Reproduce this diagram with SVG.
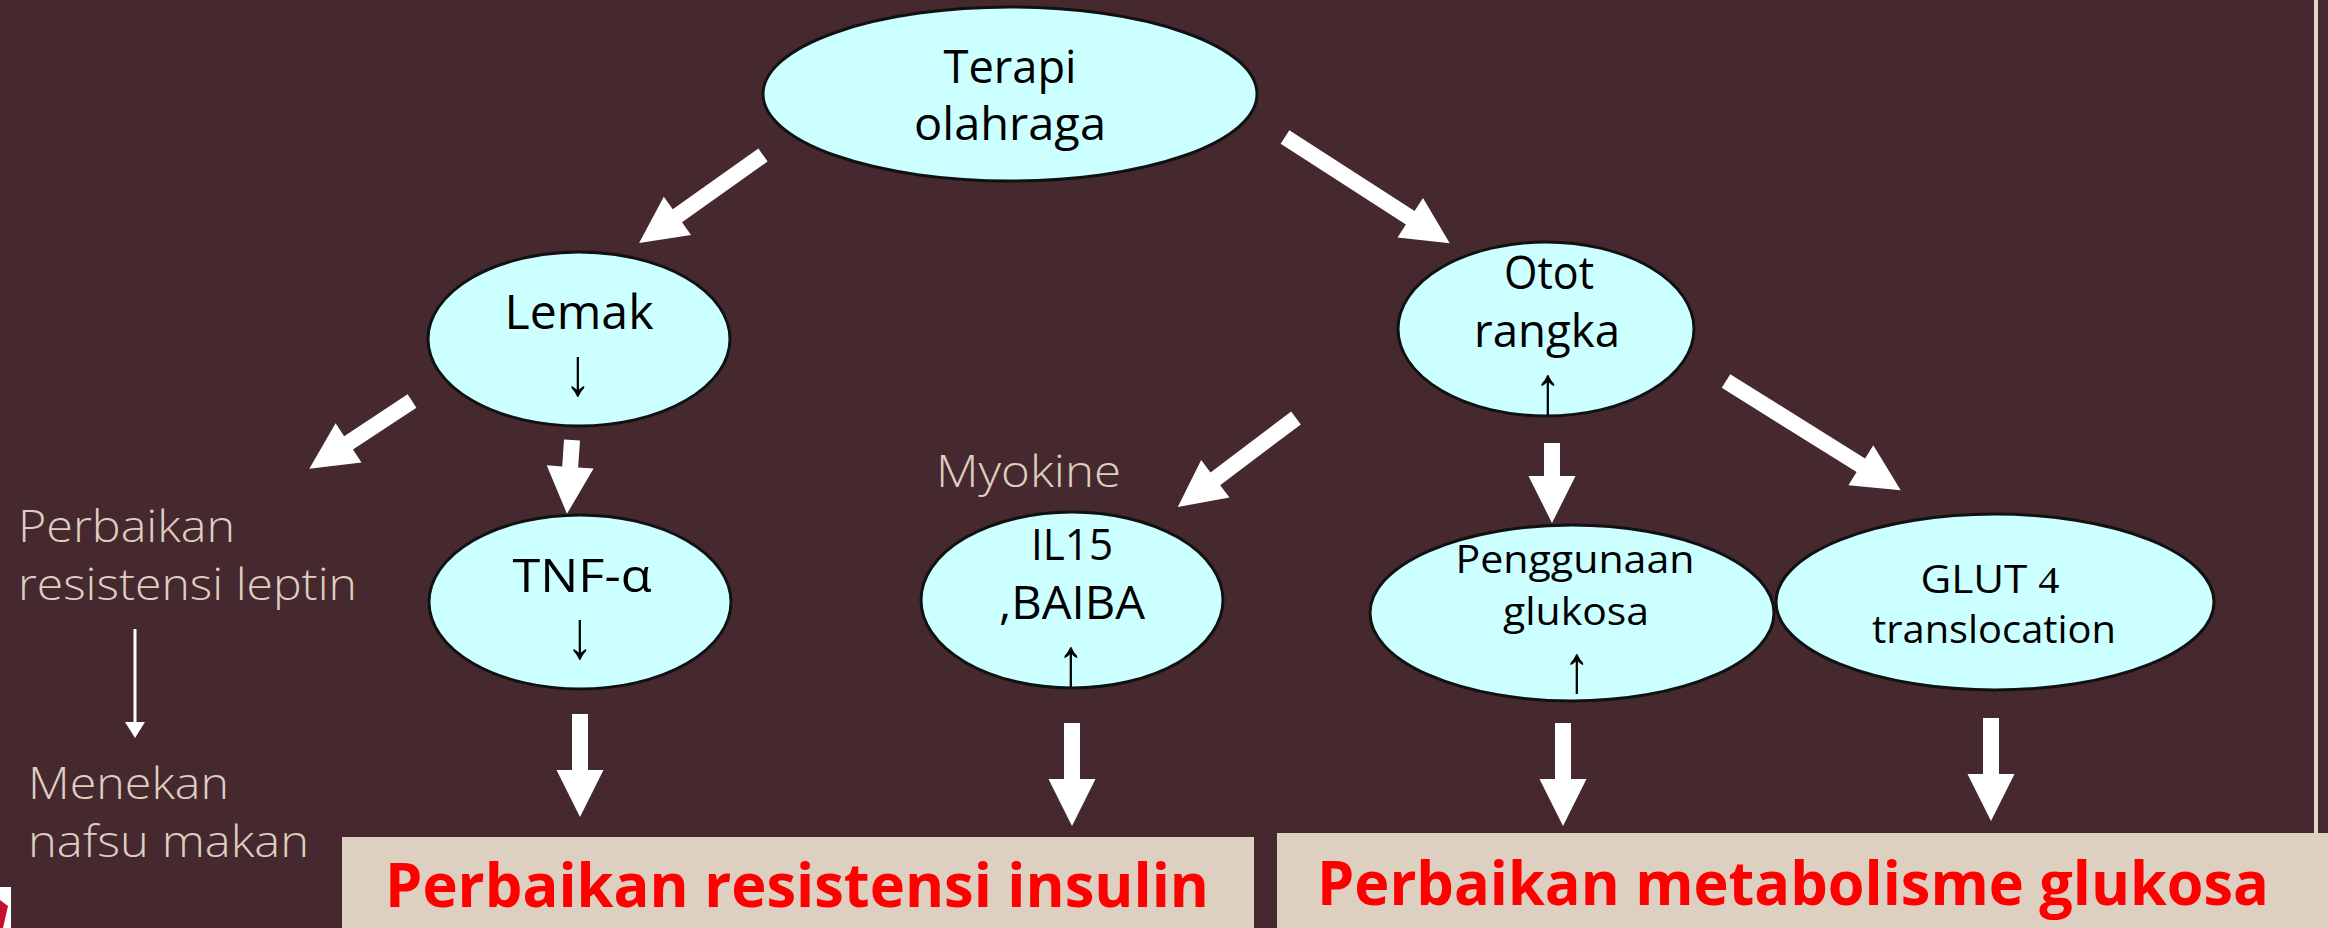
<svg xmlns="http://www.w3.org/2000/svg" width="2328" height="928" viewBox="0 0 2328 928">
<defs>
<style>
.node ellipse{fill:#ccffff;stroke:#111;stroke-width:3}
.t{font-family:"Open Sans","Liberation Sans",sans-serif;fill:#000;text-anchor:middle}
.ar{font-family:"Liberation Sans","DejaVu Sans",sans-serif;fill:#000;text-anchor:middle;font-size:54px}
.beige{font-family:"Open Sans","Liberation Sans",sans-serif;font-weight:300;fill:#dccfc0;font-size:44px}
.red{font-family:"Open Sans","Liberation Sans",sans-serif;font-weight:700;fill:#ff0000;font-size:60px}
.blk{fill:#ffffff}
</style>
</defs>
<rect width="2328" height="928" fill="#46292f"/>
<rect x="2314" y="0" width="4" height="833" fill="#e0d5c8"/>
<rect x="0" y="887" width="11" height="41" fill="#ffffff"/>
<polygon points="0,900 8,906 3,928 0,928" fill="#c8102e"/>

<g id="connectors">
<path class="blk" transform="translate(763,155) rotate(144.6)" d="M0,-8 H105 V-23.5 L152,0 L105,23.5 V8 H0 Z"/>
<path class="blk" transform="translate(1285,137) rotate(32.8)" d="M0,-8 H149 V-23.5 L196,0 L149,23.5 V8 H0 Z"/>
<path class="blk" transform="translate(412,401) rotate(146.6)" d="M0,-8 H76 V-23.5 L123,0 L76,23.5 V8 H0 Z"/>
<path class="blk" transform="translate(572,440) rotate(93.9)" d="M0,-8 H27 V-23.5 L74,0 L27,23.5 V8 H0 Z"/>
<path class="blk" transform="translate(580,714) rotate(90)" d="M0,-8 H56 V-23.5 L103,0 L56,23.5 V8 H0 Z"/>
<path class="blk" transform="translate(1296,418) rotate(143)" d="M0,-8 H101 V-23.5 L148,0 L101,23.5 V8 H0 Z"/>
<path class="blk" transform="translate(1072,723) rotate(90)" d="M0,-8 H56 V-23.5 L103,0 L56,23.5 V8 H0 Z"/>
<path class="blk" transform="translate(1552,443) rotate(90)" d="M0,-8 H33 V-23.5 L80,0 L33,23.5 V8 H0 Z"/>
<path class="blk" transform="translate(1726,381) rotate(32)" d="M0,-8 H159 V-23.5 L206,0 L159,23.5 V8 H0 Z"/>
<path class="blk" transform="translate(1563,723) rotate(90)" d="M0,-8 H56 V-23.5 L103,0 L56,23.5 V8 H0 Z"/>
<path class="blk" transform="translate(1991,718) rotate(90)" d="M0,-8 H56 V-23.5 L103,0 L56,23.5 V8 H0 Z"/>
<rect class="blk" x="133.5" y="629" width="3" height="95"/>
<polygon class="blk" points="125,722 145,722 135,738"/>
</g>

<g id="n-terapi" class="node">
<ellipse cx="1010" cy="94" rx="247" ry="87"/>
<text class="t" x="1010" y="83" font-size="45" textLength="133" lengthAdjust="spacingAndGlyphs">Terapi</text>
<text class="t" x="1010" y="140" font-size="45" textLength="192" lengthAdjust="spacingAndGlyphs">olahraga</text>
</g>

<g id="n-lemak" class="node">
<ellipse cx="579" cy="339" rx="151" ry="87"/>
<text class="t" x="579" y="329" font-size="47" textLength="149" lengthAdjust="spacingAndGlyphs">Lemak</text>
<text class="ar" transform="translate(578,395) scale(1,1.25)">↓</text>
</g>

<g id="n-otot" class="node">
<ellipse cx="1546" cy="329" rx="148" ry="87"/>
<text class="t" x="1549" y="289" font-size="45" textLength="90" lengthAdjust="spacingAndGlyphs">Otot</text>
<text class="t" x="1547" y="347" font-size="45" textLength="146" lengthAdjust="spacingAndGlyphs">rangka</text>
<text class="ar" transform="translate(1548,413) scale(1,1.25)">↑</text>
</g>

<g id="n-tnf" class="node">
<ellipse cx="580" cy="602" rx="151" ry="87"/>
<text class="t" x="582" y="592" font-size="46" textLength="139" lengthAdjust="spacingAndGlyphs">TNF-α</text>
<text class="ar" transform="translate(580,658) scale(1,1.25)">↓</text>
</g>

<g id="n-il15" class="node">
<ellipse cx="1072" cy="600" rx="151" ry="88"/>
<text class="t" x="1072" y="560" font-size="44" textLength="82" lengthAdjust="spacingAndGlyphs">IL15</text>
<text class="t" x="1072" y="619" font-size="46" textLength="146" lengthAdjust="spacingAndGlyphs">,BAIBA</text>
<text class="ar" transform="translate(1071,685) scale(1,1.25)">↑</text>
</g>

<g id="n-penggunaan" class="node">
<ellipse cx="1572" cy="613" rx="202" ry="88"/>
<text class="t" x="1575" y="573" font-size="39" textLength="239" lengthAdjust="spacingAndGlyphs">Penggunaan</text>
<text class="t" x="1576" y="625" font-size="39" textLength="146" lengthAdjust="spacingAndGlyphs">glukosa</text>
<text class="ar" transform="translate(1577,692) scale(1,1.25)">↑</text>
</g>

<g id="n-glut4" class="node">
<ellipse cx="1995" cy="602" rx="219" ry="88"/>
<text class="t" x="1990" y="593" font-size="38" textLength="139" lengthAdjust="spacingAndGlyphs">GLUT <tspan font-family="'Liberation Serif',serif">4</tspan></text>
<text class="t" x="1994" y="643" font-size="38" textLength="244" lengthAdjust="spacingAndGlyphs">translocation</text>
</g>

<g id="labels">
<text class="beige" x="18" y="542" textLength="217" lengthAdjust="spacingAndGlyphs">Perbaikan</text>
<text class="beige" x="18" y="600" textLength="339" lengthAdjust="spacingAndGlyphs">resistensi leptin</text>
<text class="beige" x="936" y="487" textLength="185" lengthAdjust="spacingAndGlyphs">Myokine</text>
<text class="beige" x="28" y="799" textLength="201" lengthAdjust="spacingAndGlyphs">Menekan</text>
<text class="beige" x="28" y="857" textLength="281" lengthAdjust="spacingAndGlyphs">nafsu makan</text>
</g>

<g id="box-insulin">
<rect x="342" y="837" width="912" height="91" fill="#ddd0c0"/>
<text class="red" x="385" y="907" textLength="824" lengthAdjust="spacingAndGlyphs">Perbaikan resistensi insulin</text>
</g>

<g id="box-glukosa">
<rect x="1277" y="833" width="1051" height="95" fill="#ddd0c0"/>
<text class="red" x="1317" y="905" textLength="952" lengthAdjust="spacingAndGlyphs">Perbaikan metabolisme glukosa</text>
</g>
</svg>
